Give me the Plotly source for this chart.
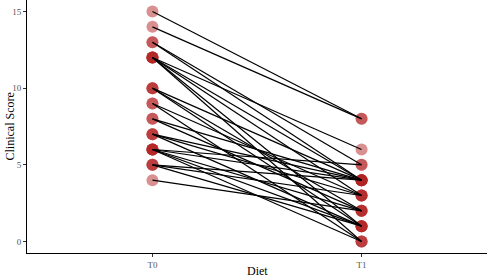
import plotly.graph_objects as go

categories = ["T0", "T1"]
t0_scores = [15, 14, 13, 13, 12, 12, 12, 12, 12, 10, 10, 10, 9, 9, 8, 8, 7, 7, 7, 6, 6, 6, 6, 6, 5, 5, 5, 4]
t1_scores = [8, 8, 5, 4, 6, 4, 3, 1, 0, 4, 2, 1, 3, 0, 4, 2, 4, 3, 1, 5, 4, 2, 1, 0, 4, 3, 1, 2]
y_ticks = [0, 5, 10, 15]

px_x, px_y = [], []
lx, ly = [], []
for a, b in zip(t0_scores, t1_scores):
    px_x += [1, 2]
    px_y += [a, b]
    lx += [1, 2, None]
    ly += [a, b, None]

fig = go.Figure()
fig.add_trace(go.Scatter(
    x=px_x, y=px_y, mode="markers",
    marker=dict(size=12, color="rgba(178,34,34,0.5)", line=dict(width=0)),
    hoverinfo="skip", cliponaxis=False, showlegend=False))
fig.add_trace(go.Scatter(
    x=lx, y=ly, mode="lines",
    line=dict(color="black", width=1.2),
    hoverinfo="skip", cliponaxis=False, showlegend=False))

font = "Liberation Serif, Times New Roman, serif"
fig.update_layout(
    width=487, height=278,
    margin=dict(l=27, r=0, t=0, b=25, autoexpand=False),
    paper_bgcolor="white", plot_bgcolor="white",
    font=dict(family=font, color="#4D4D4D", size=9),
    xaxis=dict(
        range=[0.4, 2.6], tickmode="array", tickvals=[1, 2], ticktext=categories,
        showline=True, linecolor="black", linewidth=1, showgrid=False, zeroline=False,
        ticks="outside", ticklen=3, tickcolor="#333333", tickwidth=1, automargin=False,
        tickfont=dict(family=font, size=9, color="#555555"),
    ),
    yaxis=dict(
        range=[-0.75, 15.75], tickmode="array", tickvals=y_ticks,
        showline=True, linecolor="black", linewidth=1, showgrid=False, zeroline=False,
        ticks="outside", ticklen=3, tickcolor="#333333", tickwidth=1, automargin=False,
        tickfont=dict(family=font, size=9, color="#555555"),
    ),
    annotations=[
        dict(text="Diet", xref="paper", yref="paper", x=0.5, y=0, yshift=-18,
             xanchor="center", yanchor="middle", showarrow=False,
             font=dict(family=font, size=12, color="black")),
        dict(text="Clinical Score", xref="paper", yref="paper", x=0, y=0.5, xshift=-18,
             xanchor="center", yanchor="middle", textangle=-90, showarrow=False,
             font=dict(family=font, size=12, color="black")),
    ],
)

fig.write_html("out.html", config={"displayModeBar": False},
               post_script="document.body.style.margin='0';document.body.style.overflow='hidden';")
